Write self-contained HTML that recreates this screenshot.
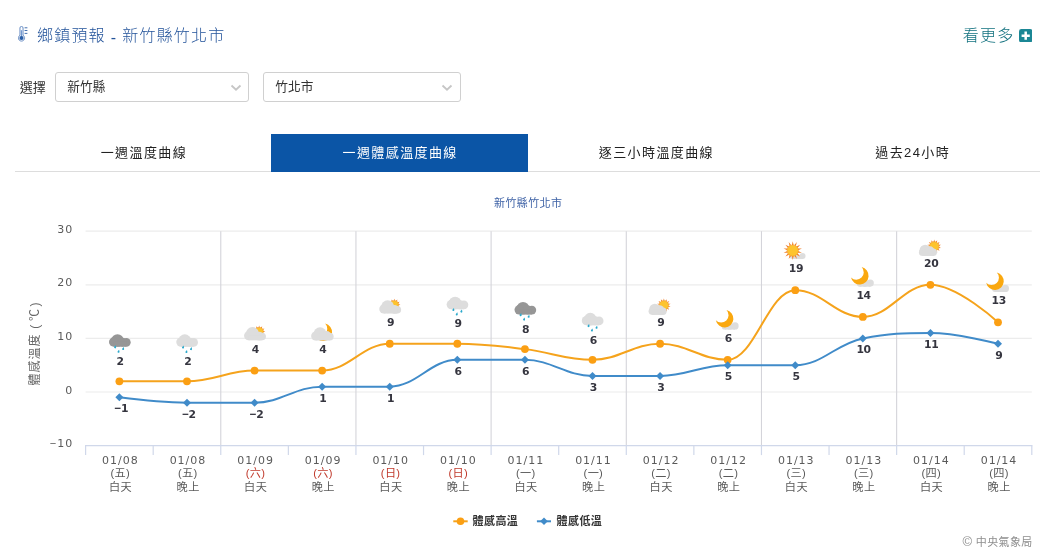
<!DOCTYPE html>
<html lang="zh-Hant"><head><meta charset="utf-8"><title>鄉鎮預報 - 新竹縣竹北市</title>
<style>
html,body{margin:0;padding:0;background:#fff}
body{width:1055px;height:560px;position:relative;overflow:hidden;font-family:"Liberation Sans","Noto Sans CJK TC",sans-serif;color:#333}
.abs{position:absolute;white-space:nowrap}
.title{left:37px;top:25.5px;font-size:16px;line-height:20px;letter-spacing:1.2px;word-spacing:-0.7px;color:#23539a;font-weight:300}
.more{left:962.8px;top:26.3px;font-size:16px;line-height:20px;letter-spacing:1.2px;color:#12717f;font-weight:300}
  .lbl{left:19.7px;top:79px;font-size:13px;line-height:18px;color:#333}
.sel{top:72px;height:28px;border:1px solid #d0d0d0;border-radius:3px;background:#fff;font-size:12.7px;line-height:28.6px;color:#333;box-sizing:content-box}
.sel span{position:absolute;left:11.3px;top:0}
.tabs{left:15px;top:134px;width:1025px;height:37px;border-bottom:1px solid #ddd}
.tab{position:absolute;top:0;height:38px;width:256.25px;text-align:center;font-size:13px;line-height:38px;letter-spacing:1.4px;color:#222;padding-left:1.6px;box-sizing:border-box}
.tab.on{background:#0b55a6;color:#fff}
</style></head><body>
<svg class="abs" style="left:17.9px;top:26px" width="11" height="16" viewBox="0 0 11 16"><path d="M1.95 2 a1.55 1.55 0 0 1 3.1 0 v7.3 a3.1 3.1 0 1 1 -3.1 0 z" fill="#fff" stroke="#5a82be" stroke-width="0.9"/><path d="M3.5 4.2 v7" stroke="#7499cf" stroke-width="1.4"/><circle cx="3.5" cy="12" r="2.1" fill="#2a5ea6"/><path d="M6.6 1.8 h2.8 M6.6 4.5 h2.8 M6.6 7.4 h2.8" stroke="#3b69ad" stroke-width="0.95"/></svg>
<div class="abs title">鄉鎮預報 <span style="position:relative;top:2px">-</span> 新竹縣竹北市</div>
<div class="abs more">看更多</div>
<svg class="abs" style="left:1018.8px;top:28.7px" width="13.4" height="13.4" viewBox="0 0 13.4 13.4"><rect x="0" y="0" width="13.4" height="13.4" rx="2.4" fill="#1b8795"/><path d="M6.7 2.6 v8.2 M2.6 6.7 h8.2" stroke="#fff" stroke-width="2.5"/></svg>
<div class="abs lbl">選擇</div>
<div class="abs sel" style="left:55px;width:192px"><span>新竹縣</span><svg style="position:absolute;right:6px;top:11px" width="12" height="8" viewBox="0 0 12 8"><path d="M1.5 1.5 L6 5.7 L10.5 1.5" fill="none" stroke="#c6c6c6" stroke-width="1.8"/></svg></div>
<div class="abs sel" style="left:263px;width:196px"><span>竹北市</span><svg style="position:absolute;right:7px;top:11px" width="12" height="8" viewBox="0 0 12 8"><path d="M1.5 1.5 L6 5.7 L10.5 1.5" fill="none" stroke="#c6c6c6" stroke-width="1.8"/></svg></div>
<div class="abs tabs">
<div class="tab" style="left:0">一週溫度曲線</div>
<div class="tab on" style="left:256.25px">一週體感溫度曲線</div>
<div class="tab" style="left:512.5px">逐三小時溫度曲線</div>
<div class="tab" style="left:768.75px">過去24小時</div>
</div>
<svg width="1055" height="560" style="position:absolute;left:0;top:0" font-family="Liberation Sans,Noto Sans CJK TC,sans-serif">
<path d="M85.60 231.20 H1031.80" stroke="#ececec" stroke-width="1.2"/>
<path d="M85.60 284.80 H1031.80" stroke="#ececec" stroke-width="1.2"/>
<path d="M85.60 338.40 H1031.80" stroke="#ececec" stroke-width="1.2"/>
<path d="M85.60 392.00 H1031.80" stroke="#ececec" stroke-width="1.2"/>
<path d="M220.77 231.20 V445.60" stroke="#d4d4da" stroke-width="1.1"/>
<path d="M355.94 231.20 V445.60" stroke="#d4d4da" stroke-width="1.1"/>
<path d="M491.11 231.20 V445.60" stroke="#d4d4da" stroke-width="1.1"/>
<path d="M626.29 231.20 V445.60" stroke="#d4d4da" stroke-width="1.1"/>
<path d="M761.46 231.20 V445.60" stroke="#d4d4da" stroke-width="1.1"/>
<path d="M896.63 231.20 V445.60" stroke="#d4d4da" stroke-width="1.1"/>
<path d="M85.00 445.60 H1032.40" stroke="#d0d8ea" stroke-width="1.3"/>
<path d="M85.60 445.60 V455.10" stroke="#d0d8ea" stroke-width="1.2"/>
<path d="M153.19 445.60 V455.10" stroke="#d0d8ea" stroke-width="1.2"/>
<path d="M220.77 445.60 V455.10" stroke="#d0d8ea" stroke-width="1.2"/>
<path d="M288.36 445.60 V455.10" stroke="#d0d8ea" stroke-width="1.2"/>
<path d="M355.94 445.60 V455.10" stroke="#d0d8ea" stroke-width="1.2"/>
<path d="M423.53 445.60 V455.10" stroke="#d0d8ea" stroke-width="1.2"/>
<path d="M491.11 445.60 V455.10" stroke="#d0d8ea" stroke-width="1.2"/>
<path d="M558.70 445.60 V455.10" stroke="#d0d8ea" stroke-width="1.2"/>
<path d="M626.29 445.60 V455.10" stroke="#d0d8ea" stroke-width="1.2"/>
<path d="M693.87 445.60 V455.10" stroke="#d0d8ea" stroke-width="1.2"/>
<path d="M761.46 445.60 V455.10" stroke="#d0d8ea" stroke-width="1.2"/>
<path d="M829.04 445.60 V455.10" stroke="#d0d8ea" stroke-width="1.2"/>
<path d="M896.63 445.60 V455.10" stroke="#d0d8ea" stroke-width="1.2"/>
<path d="M964.21 445.60 V455.10" stroke="#d0d8ea" stroke-width="1.2"/>
<path d="M1031.80 445.60 V455.10" stroke="#d0d8ea" stroke-width="1.2"/>
<text x="73.2" y="232.80" text-anchor="end" font-family="DejaVu Sans,Liberation Sans,Noto Sans CJK TC,sans-serif" font-size="11" letter-spacing="1" fill="#5a5a5a">30</text>
<text x="73.2" y="286.40" text-anchor="end" font-family="DejaVu Sans,Liberation Sans,Noto Sans CJK TC,sans-serif" font-size="11" letter-spacing="1" fill="#5a5a5a">20</text>
<text x="73.2" y="340.00" text-anchor="end" font-family="DejaVu Sans,Liberation Sans,Noto Sans CJK TC,sans-serif" font-size="11" letter-spacing="1" fill="#5a5a5a">10</text>
<text x="73.2" y="393.60" text-anchor="end" font-family="DejaVu Sans,Liberation Sans,Noto Sans CJK TC,sans-serif" font-size="11" letter-spacing="1" fill="#5a5a5a">0</text>
<text x="73.2" y="447.20" text-anchor="end" font-family="DejaVu Sans,Liberation Sans,Noto Sans CJK TC,sans-serif" font-size="11" letter-spacing="1" fill="#5a5a5a"><tspan font-family="Liberation Sans">−</tspan>10</text>
<g transform="translate(39.2 385.4) rotate(-90)" font-size="12" fill="#666"><text x="0" y="0" letter-spacing="1">體感溫度</text><text x="56.6" y="0">(</text><text x="64.4" y="0">℃</text><text x="78.8" y="0">)</text></g>
<text x="528.2" y="206.7" text-anchor="middle" font-size="11" letter-spacing="0.4" fill="#3e62a6">新竹縣竹北市</text>
<path d="M119.39 381.28 C119.39 381.28 159.94 381.28 186.98 381.28 C214.01 381.28 227.53 370.56 254.56 370.56 C281.60 370.56 295.12 370.56 322.15 370.56 C349.18 370.56 362.70 343.76 389.74 343.76 C416.77 343.76 430.29 343.76 457.32 343.76 C484.36 343.76 497.87 345.90 524.91 349.12 C551.94 352.34 565.46 359.84 592.49 359.84 C619.53 359.84 633.04 343.76 660.08 343.76 C687.11 343.76 700.63 359.84 727.66 359.84 C754.70 359.84 768.22 290.16 795.25 290.16 C822.28 290.16 835.80 316.96 862.84 316.96 C889.87 316.96 903.39 284.80 930.42 284.80 C957.46 284.80 998.01 322.32 998.01 322.32" fill="none" stroke="#f5a31c" stroke-width="2" stroke-linecap="round" stroke-linejoin="round"/>
<path d="M119.39 397.36 C119.39 397.36 159.94 402.72 186.98 402.72 C214.01 402.72 227.53 402.72 254.56 402.72 C281.60 402.72 295.12 386.64 322.15 386.64 C349.18 386.64 362.70 386.64 389.74 386.64 C416.77 386.64 430.29 359.84 457.32 359.84 C484.36 359.84 497.87 359.84 524.91 359.84 C551.94 359.84 565.46 375.92 592.49 375.92 C619.53 375.92 633.04 375.92 660.08 375.92 C687.11 375.92 700.63 365.20 727.66 365.20 C754.70 365.20 768.22 365.20 795.25 365.20 C822.28 365.20 835.80 343.76 862.84 338.40 C889.87 333.04 903.39 333.04 930.42 333.04 C957.46 333.04 998.01 343.76 998.01 343.76" fill="none" stroke="#408bc9" stroke-width="2" stroke-linecap="round" stroke-linejoin="round"/>
<circle cx="119.39" cy="381.28" r="3.9" fill="#fb9f13"/>
<circle cx="186.98" cy="381.28" r="3.9" fill="#fb9f13"/>
<circle cx="254.56" cy="370.56" r="3.9" fill="#fb9f13"/>
<circle cx="322.15" cy="370.56" r="3.9" fill="#fb9f13"/>
<circle cx="389.74" cy="343.76" r="3.9" fill="#fb9f13"/>
<circle cx="457.32" cy="343.76" r="3.9" fill="#fb9f13"/>
<circle cx="524.91" cy="349.12" r="3.9" fill="#fb9f13"/>
<circle cx="592.49" cy="359.84" r="3.9" fill="#fb9f13"/>
<circle cx="660.08" cy="343.76" r="3.9" fill="#fb9f13"/>
<circle cx="727.66" cy="359.84" r="3.9" fill="#fb9f13"/>
<circle cx="795.25" cy="290.16" r="3.9" fill="#fb9f13"/>
<circle cx="862.84" cy="316.96" r="3.9" fill="#fb9f13"/>
<circle cx="930.42" cy="284.80" r="3.9" fill="#fb9f13"/>
<circle cx="998.01" cy="322.32" r="3.9" fill="#fb9f13"/>
<path d="M119.39 393.36 l4 4 l-4 4 l-4 -4 z" fill="#408bc9"/>
<path d="M186.98 398.72 l4 4 l-4 4 l-4 -4 z" fill="#408bc9"/>
<path d="M254.56 398.72 l4 4 l-4 4 l-4 -4 z" fill="#408bc9"/>
<path d="M322.15 382.64 l4 4 l-4 4 l-4 -4 z" fill="#408bc9"/>
<path d="M389.74 382.64 l4 4 l-4 4 l-4 -4 z" fill="#408bc9"/>
<path d="M457.32 355.84 l4 4 l-4 4 l-4 -4 z" fill="#408bc9"/>
<path d="M524.91 355.84 l4 4 l-4 4 l-4 -4 z" fill="#408bc9"/>
<path d="M592.49 371.92 l4 4 l-4 4 l-4 -4 z" fill="#408bc9"/>
<path d="M660.08 371.92 l4 4 l-4 4 l-4 -4 z" fill="#408bc9"/>
<path d="M727.66 361.20 l4 4 l-4 4 l-4 -4 z" fill="#408bc9"/>
<path d="M795.25 361.20 l4 4 l-4 4 l-4 -4 z" fill="#408bc9"/>
<path d="M862.84 334.40 l4 4 l-4 4 l-4 -4 z" fill="#408bc9"/>
<path d="M930.42 329.04 l4 4 l-4 4 l-4 -4 z" fill="#408bc9"/>
<path d="M998.01 339.76 l4 4 l-4 4 l-4 -4 z" fill="#408bc9"/>
<g transform="translate(119.39 381.28)"><g transform="translate(-10.40 -47.10)" fill="#969696"><circle cx="8.50" cy="6.30" r="6.30"/><circle cx="17.30" cy="8.10" r="4.40"/><circle cx="4.70" cy="7.80" r="4.70"/><circle cx="13.40" cy="8.00" r="4.50"/><rect x="4.70" y="7.00" width="12.60" height="5.50"/></g><path d="M-3.70 -36.00 l0.45 2.0 a1.0 1.0 0 1 1 -1.85 -0.45 z" fill="#2ba9cc"/><path d="M4.30 -34.40 l0.45 2.0 a1.0 1.0 0 1 1 -1.85 -0.45 z" fill="#2ba9cc"/><path d="M-0.30 -31.60 l0.45 2.0 a1.0 1.0 0 1 1 -1.85 -0.45 z" fill="#2ba9cc"/></g>
<g transform="translate(186.98 381.28)"><g transform="translate(-10.70 -47.00)" fill="#dddddd"><circle cx="8.50" cy="6.30" r="6.30"/><circle cx="17.30" cy="8.10" r="4.40"/><circle cx="4.70" cy="7.80" r="4.70"/><circle cx="13.40" cy="8.00" r="4.50"/><rect x="4.70" y="7.00" width="12.60" height="5.50"/></g><path d="M-3.40 -35.80 l0.45 2.0 a1.0 1.0 0 1 1 -1.85 -0.45 z" fill="#2ba9cc"/><path d="M4.60 -34.20 l0.45 2.0 a1.0 1.0 0 1 1 -1.85 -0.45 z" fill="#2ba9cc"/><path d="M0.00 -31.40 l0.45 2.0 a1.0 1.0 0 1 1 -1.85 -0.45 z" fill="#2ba9cc"/></g>
<g transform="translate(254.56 370.56)"><path d="M5.35 -42.90 L4.60 -45.10 L3.85 -42.90 ZM7.20 -42.00 L7.65 -44.28 L5.90 -42.75 ZM8.35 -40.30 L9.88 -42.05 L7.60 -41.60 ZM8.50 -38.25 L10.70 -39.00 L8.50 -39.75 ZM7.60 -36.40 L9.88 -35.95 L8.35 -37.70 ZM5.90 -35.25 L7.65 -33.72 L7.20 -36.00 ZM3.85 -35.10 L4.60 -32.90 L5.35 -35.10 ZM2.00 -36.00 L1.55 -33.72 L3.30 -35.25 ZM0.85 -37.70 L-0.68 -35.95 L1.60 -36.40 ZM0.70 -39.75 L-1.50 -39.00 L0.70 -38.25 ZM1.60 -41.60 L-0.68 -42.05 L0.85 -40.30 ZM3.30 -42.75 L1.55 -44.28 L2.00 -42.00 Z" fill="#f07f2a"/><circle cx="4.60" cy="-39.00" r="4.10" fill="#fdc42e" stroke="#f39a26" stroke-width="0.6"/><g transform="translate(-10.50 -43.50)" fill="#dddddd"><circle cx="8.40" cy="6.50" r="6.50"/><circle cx="15.30" cy="9.10" r="4.30"/><circle cx="18.10" cy="9.50" r="3.80"/><circle cx="4.60" cy="8.70" r="4.60"/><rect x="4.60" y="8.00" width="13.50" height="5.30"/></g></g>
<g transform="translate(322.15 370.56)"><path transform="translate(1.10 -38.30)" d="M1.93 -8.64 A8.85 8.85 0 1 1 -8.69 1.67 A7.40 7.40 0 0 0 1.93 -8.64 Z" fill="#faa80f"/><g transform="translate(-11.10 -43.20)" fill="#dddddd"><circle cx="9.00" cy="6.50" r="6.50"/><circle cx="15.60" cy="8.40" r="4.70"/><circle cx="18.70" cy="9.20" r="3.90"/><circle cx="4.60" cy="8.60" r="4.50"/><rect x="4.60" y="8.00" width="14.10" height="5.10"/></g></g>
<g transform="translate(389.74 343.76)"><path d="M5.35 -42.90 L4.60 -45.10 L3.85 -42.90 ZM7.20 -42.00 L7.65 -44.28 L5.90 -42.75 ZM8.35 -40.30 L9.88 -42.05 L7.60 -41.60 ZM8.50 -38.25 L10.70 -39.00 L8.50 -39.75 ZM7.60 -36.40 L9.88 -35.95 L8.35 -37.70 ZM5.90 -35.25 L7.65 -33.72 L7.20 -36.00 ZM3.85 -35.10 L4.60 -32.90 L5.35 -35.10 ZM2.00 -36.00 L1.55 -33.72 L3.30 -35.25 ZM0.85 -37.70 L-0.68 -35.95 L1.60 -36.40 ZM0.70 -39.75 L-1.50 -39.00 L0.70 -38.25 ZM1.60 -41.60 L-0.68 -42.05 L0.85 -40.30 ZM3.30 -42.75 L1.55 -44.28 L2.00 -42.00 Z" fill="#f07f2a"/><circle cx="4.60" cy="-39.00" r="4.10" fill="#fdc42e" stroke="#f39a26" stroke-width="0.6"/><g transform="translate(-10.50 -43.50)" fill="#dddddd"><circle cx="8.40" cy="6.50" r="6.50"/><circle cx="15.30" cy="9.10" r="4.30"/><circle cx="18.10" cy="9.50" r="3.80"/><circle cx="4.60" cy="8.70" r="4.60"/><rect x="4.60" y="8.00" width="13.50" height="5.30"/></g></g>
<g transform="translate(457.32 343.76)"><g transform="translate(-10.70 -47.00)" fill="#dddddd"><circle cx="8.50" cy="6.30" r="6.30"/><circle cx="17.30" cy="8.10" r="4.40"/><circle cx="4.70" cy="7.80" r="4.70"/><circle cx="13.40" cy="8.00" r="4.50"/><rect x="4.70" y="7.00" width="12.60" height="5.50"/></g><path d="M-3.40 -35.80 l0.45 2.0 a1.0 1.0 0 1 1 -1.85 -0.45 z" fill="#2ba9cc"/><path d="M4.60 -34.20 l0.45 2.0 a1.0 1.0 0 1 1 -1.85 -0.45 z" fill="#2ba9cc"/><path d="M0.00 -31.40 l0.45 2.0 a1.0 1.0 0 1 1 -1.85 -0.45 z" fill="#2ba9cc"/></g>
<g transform="translate(524.91 349.12)"><g transform="translate(-10.40 -47.10)" fill="#969696"><circle cx="8.50" cy="6.30" r="6.30"/><circle cx="17.30" cy="8.10" r="4.40"/><circle cx="4.70" cy="7.80" r="4.70"/><circle cx="13.40" cy="8.00" r="4.50"/><rect x="4.70" y="7.00" width="12.60" height="5.50"/></g><path d="M-3.70 -36.00 l0.45 2.0 a1.0 1.0 0 1 1 -1.85 -0.45 z" fill="#2ba9cc"/><path d="M4.30 -34.40 l0.45 2.0 a1.0 1.0 0 1 1 -1.85 -0.45 z" fill="#2ba9cc"/><path d="M-0.30 -31.60 l0.45 2.0 a1.0 1.0 0 1 1 -1.85 -0.45 z" fill="#2ba9cc"/></g>
<g transform="translate(592.49 359.84)"><g transform="translate(-10.70 -47.00)" fill="#dddddd"><circle cx="8.50" cy="6.30" r="6.30"/><circle cx="17.30" cy="8.10" r="4.40"/><circle cx="4.70" cy="7.80" r="4.70"/><circle cx="13.40" cy="8.00" r="4.50"/><rect x="4.70" y="7.00" width="12.60" height="5.50"/></g><path d="M-3.40 -35.80 l0.45 2.0 a1.0 1.0 0 1 1 -1.85 -0.45 z" fill="#2ba9cc"/><path d="M4.60 -34.20 l0.45 2.0 a1.0 1.0 0 1 1 -1.85 -0.45 z" fill="#2ba9cc"/><path d="M0.00 -31.40 l0.45 2.0 a1.0 1.0 0 1 1 -1.85 -0.45 z" fill="#2ba9cc"/></g>
<g transform="translate(660.08 343.76)"><path d="M4.55 -42.90 L3.80 -45.30 L3.05 -42.90 ZM6.43 -42.13 L6.79 -44.62 L5.08 -42.78 ZM7.79 -40.62 L9.19 -42.70 L6.85 -41.79 ZM8.35 -38.67 L10.53 -39.94 L8.02 -40.13 ZM8.02 -36.67 L10.53 -36.86 L8.35 -38.13 ZM6.85 -35.01 L9.19 -34.10 L7.79 -36.18 ZM5.08 -34.02 L6.79 -32.18 L6.43 -34.67 ZM3.05 -33.90 L3.80 -31.50 L4.55 -33.90 ZM1.17 -34.67 L0.81 -32.18 L2.52 -34.02 ZM-0.19 -36.18 L-1.59 -34.10 L0.75 -35.01 ZM-0.75 -38.13 L-2.93 -36.86 L-0.42 -36.67 ZM-0.42 -40.13 L-2.93 -39.94 L-0.75 -38.67 ZM0.75 -41.79 L-1.59 -42.70 L-0.19 -40.62 ZM2.52 -42.78 L0.81 -44.62 L1.17 -42.13 Z" fill="#f07f2a"/><circle cx="3.80" cy="-38.40" r="4.70" fill="#fdc42e" stroke="#f39a26" stroke-width="0.6"/><g transform="translate(-11.50 -40.10)" fill="#dddddd"><circle cx="6.30" cy="5.60" r="5.60"/><circle cx="10.80" cy="6.40" r="4.90"/><circle cx="14.40" cy="7.60" r="3.70"/><circle cx="3.60" cy="7.70" r="3.60"/><rect x="3.60" y="6.00" width="10.80" height="5.30"/></g></g>
<g transform="translate(727.66 359.84)"><g transform="translate(-6.00 -37.50)" fill="#dddddd"><circle cx="13.40" cy="3.60" r="3.60"/><circle cx="3.00" cy="4.30" r="2.90"/><circle cx="8.00" cy="3.80" r="3.40"/><rect x="3.00" y="3.00" width="10.40" height="4.20"/></g><path transform="translate(-3.10 -41.20)" d="M1.93 -8.64 A8.85 8.85 0 1 1 -8.69 1.67 A7.40 7.40 0 0 0 1.93 -8.64 Z" fill="#faa80f"/></g>
<g transform="translate(795.25 290.16)"><g transform="translate(-6.00 -37.20)" fill="#dddddd"><circle cx="13.30" cy="3.10" r="3.00"/><circle cx="3.00" cy="3.70" r="2.40"/><circle cx="8.00" cy="3.60" r="2.50"/><rect x="3.00" y="2.60" width="10.30" height="3.50"/></g><path d="M-1.60 -45.00 L-2.50 -49.00 L-3.40 -45.00 ZM0.65 -44.07 L1.58 -48.07 L-0.97 -44.86 ZM2.28 -42.26 L4.85 -45.46 L1.16 -43.67 ZM2.96 -39.92 L6.66 -41.69 L2.56 -41.68 ZM2.56 -37.52 L6.66 -37.51 L2.96 -39.28 ZM1.16 -35.53 L4.85 -33.74 L2.28 -36.94 ZM-0.97 -34.34 L1.58 -31.13 L0.65 -35.13 ZM-3.40 -34.20 L-2.50 -30.20 L-1.60 -34.20 ZM-5.65 -35.13 L-6.58 -31.13 L-4.03 -34.34 ZM-7.28 -36.94 L-9.85 -33.74 L-6.16 -35.53 ZM-7.96 -39.28 L-11.66 -37.51 L-7.56 -37.52 ZM-7.56 -41.68 L-11.66 -41.69 L-7.96 -39.92 ZM-6.16 -43.67 L-9.85 -45.46 L-7.28 -42.26 ZM-4.03 -44.86 L-6.58 -48.07 L-5.65 -44.07 Z" fill="#f07f2a"/><circle cx="-2.50" cy="-39.60" r="5.60" fill="#fdc42e" stroke="#f39a26" stroke-width="0.6"/></g>
<g transform="translate(862.84 316.96)"><g transform="translate(-6.00 -37.50)" fill="#dddddd"><circle cx="13.40" cy="3.60" r="3.60"/><circle cx="3.00" cy="4.30" r="2.90"/><circle cx="8.00" cy="3.80" r="3.40"/><rect x="3.00" y="3.00" width="10.40" height="4.20"/></g><path transform="translate(-3.10 -41.20)" d="M1.93 -8.64 A8.85 8.85 0 1 1 -8.69 1.67 A7.40 7.40 0 0 0 1.93 -8.64 Z" fill="#faa80f"/></g>
<g transform="translate(930.42 284.80)"><path d="M4.55 -42.90 L3.80 -45.30 L3.05 -42.90 ZM6.43 -42.13 L6.79 -44.62 L5.08 -42.78 ZM7.79 -40.62 L9.19 -42.70 L6.85 -41.79 ZM8.35 -38.67 L10.53 -39.94 L8.02 -40.13 ZM8.02 -36.67 L10.53 -36.86 L8.35 -38.13 ZM6.85 -35.01 L9.19 -34.10 L7.79 -36.18 ZM5.08 -34.02 L6.79 -32.18 L6.43 -34.67 ZM3.05 -33.90 L3.80 -31.50 L4.55 -33.90 ZM1.17 -34.67 L0.81 -32.18 L2.52 -34.02 ZM-0.19 -36.18 L-1.59 -34.10 L0.75 -35.01 ZM-0.75 -38.13 L-2.93 -36.86 L-0.42 -36.67 ZM-0.42 -40.13 L-2.93 -39.94 L-0.75 -38.67 ZM0.75 -41.79 L-1.59 -42.70 L-0.19 -40.62 ZM2.52 -42.78 L0.81 -44.62 L1.17 -42.13 Z" fill="#f07f2a"/><circle cx="3.80" cy="-38.40" r="4.70" fill="#fdc42e" stroke="#f39a26" stroke-width="0.6"/><g transform="translate(-11.50 -40.10)" fill="#dddddd"><circle cx="6.30" cy="5.60" r="5.60"/><circle cx="10.80" cy="6.40" r="4.90"/><circle cx="14.40" cy="7.60" r="3.70"/><circle cx="3.60" cy="7.70" r="3.60"/><rect x="3.60" y="6.00" width="10.80" height="5.30"/></g></g>
<g transform="translate(998.01 322.32)"><g transform="translate(-6.00 -37.50)" fill="#dddddd"><circle cx="13.40" cy="3.60" r="3.60"/><circle cx="3.00" cy="4.30" r="2.90"/><circle cx="8.00" cy="3.80" r="3.40"/><rect x="3.00" y="3.00" width="10.40" height="4.20"/></g><path transform="translate(-3.10 -41.20)" d="M1.93 -8.64 A8.85 8.85 0 1 1 -8.69 1.67 A7.40 7.40 0 0 0 1.93 -8.64 Z" fill="#faa80f"/></g>
<text x="120.19" y="364.98" font-family="DejaVu Sans,Liberation Sans,Noto Sans CJK TC,sans-serif" font-size="10.8" font-weight="bold" letter-spacing="-0.3" text-anchor="middle" fill="#35353f" stroke="#fff" stroke-width="2" stroke-linejoin="round" paint-order="stroke">2</text>
<text x="187.78" y="364.98" font-family="DejaVu Sans,Liberation Sans,Noto Sans CJK TC,sans-serif" font-size="10.8" font-weight="bold" letter-spacing="-0.3" text-anchor="middle" fill="#35353f" stroke="#fff" stroke-width="2" stroke-linejoin="round" paint-order="stroke">2</text>
<text x="255.36" y="353.06" font-family="DejaVu Sans,Liberation Sans,Noto Sans CJK TC,sans-serif" font-size="10.8" font-weight="bold" letter-spacing="-0.3" text-anchor="middle" fill="#35353f" stroke="#fff" stroke-width="2" stroke-linejoin="round" paint-order="stroke">4</text>
<text x="322.95" y="352.56" font-family="DejaVu Sans,Liberation Sans,Noto Sans CJK TC,sans-serif" font-size="10.8" font-weight="bold" letter-spacing="-0.3" text-anchor="middle" fill="#35353f" stroke="#fff" stroke-width="2" stroke-linejoin="round" paint-order="stroke">4</text>
<text x="390.54" y="326.26" font-family="DejaVu Sans,Liberation Sans,Noto Sans CJK TC,sans-serif" font-size="10.8" font-weight="bold" letter-spacing="-0.3" text-anchor="middle" fill="#35353f" stroke="#fff" stroke-width="2" stroke-linejoin="round" paint-order="stroke">9</text>
<text x="458.12" y="327.46" font-family="DejaVu Sans,Liberation Sans,Noto Sans CJK TC,sans-serif" font-size="10.8" font-weight="bold" letter-spacing="-0.3" text-anchor="middle" fill="#35353f" stroke="#fff" stroke-width="2" stroke-linejoin="round" paint-order="stroke">9</text>
<text x="525.71" y="332.82" font-family="DejaVu Sans,Liberation Sans,Noto Sans CJK TC,sans-serif" font-size="10.8" font-weight="bold" letter-spacing="-0.3" text-anchor="middle" fill="#35353f" stroke="#fff" stroke-width="2" stroke-linejoin="round" paint-order="stroke">8</text>
<text x="593.29" y="343.54" font-family="DejaVu Sans,Liberation Sans,Noto Sans CJK TC,sans-serif" font-size="10.8" font-weight="bold" letter-spacing="-0.3" text-anchor="middle" fill="#35353f" stroke="#fff" stroke-width="2" stroke-linejoin="round" paint-order="stroke">6</text>
<text x="660.88" y="326.36" font-family="DejaVu Sans,Liberation Sans,Noto Sans CJK TC,sans-serif" font-size="10.8" font-weight="bold" letter-spacing="-0.3" text-anchor="middle" fill="#35353f" stroke="#fff" stroke-width="2" stroke-linejoin="round" paint-order="stroke">9</text>
<text x="728.46" y="341.84" font-family="DejaVu Sans,Liberation Sans,Noto Sans CJK TC,sans-serif" font-size="10.8" font-weight="bold" letter-spacing="-0.3" text-anchor="middle" fill="#35353f" stroke="#fff" stroke-width="2" stroke-linejoin="round" paint-order="stroke">6</text>
<text x="796.05" y="271.86" font-family="DejaVu Sans,Liberation Sans,Noto Sans CJK TC,sans-serif" font-size="10.8" font-weight="bold" letter-spacing="-0.3" text-anchor="middle" fill="#35353f" stroke="#fff" stroke-width="2" stroke-linejoin="round" paint-order="stroke">19</text>
<text x="863.64" y="298.96" font-family="DejaVu Sans,Liberation Sans,Noto Sans CJK TC,sans-serif" font-size="10.8" font-weight="bold" letter-spacing="-0.3" text-anchor="middle" fill="#35353f" stroke="#fff" stroke-width="2" stroke-linejoin="round" paint-order="stroke">14</text>
<text x="931.22" y="267.40" font-family="DejaVu Sans,Liberation Sans,Noto Sans CJK TC,sans-serif" font-size="10.8" font-weight="bold" letter-spacing="-0.3" text-anchor="middle" fill="#35353f" stroke="#fff" stroke-width="2" stroke-linejoin="round" paint-order="stroke">20</text>
<text x="998.81" y="304.32" font-family="DejaVu Sans,Liberation Sans,Noto Sans CJK TC,sans-serif" font-size="10.8" font-weight="bold" letter-spacing="-0.3" text-anchor="middle" fill="#35353f" stroke="#fff" stroke-width="2" stroke-linejoin="round" paint-order="stroke">13</text>
<text x="121.39" y="412.36" font-family="DejaVu Sans,Liberation Sans,Noto Sans CJK TC,sans-serif" font-size="10.8" font-weight="bold" letter-spacing="-0.3" text-anchor="middle" fill="#35353f" stroke="#fff" stroke-width="2" stroke-linejoin="round" paint-order="stroke"><tspan font-family="Liberation Sans" font-size="11.5">−</tspan>1</text>
<text x="188.98" y="417.72" font-family="DejaVu Sans,Liberation Sans,Noto Sans CJK TC,sans-serif" font-size="10.8" font-weight="bold" letter-spacing="-0.3" text-anchor="middle" fill="#35353f" stroke="#fff" stroke-width="2" stroke-linejoin="round" paint-order="stroke"><tspan font-family="Liberation Sans" font-size="11.5">−</tspan>2</text>
<text x="256.56" y="417.72" font-family="DejaVu Sans,Liberation Sans,Noto Sans CJK TC,sans-serif" font-size="10.8" font-weight="bold" letter-spacing="-0.3" text-anchor="middle" fill="#35353f" stroke="#fff" stroke-width="2" stroke-linejoin="round" paint-order="stroke"><tspan font-family="Liberation Sans" font-size="11.5">−</tspan>2</text>
<text x="322.95" y="401.64" font-family="DejaVu Sans,Liberation Sans,Noto Sans CJK TC,sans-serif" font-size="10.8" font-weight="bold" letter-spacing="-0.3" text-anchor="middle" fill="#35353f" stroke="#fff" stroke-width="2" stroke-linejoin="round" paint-order="stroke">1</text>
<text x="390.54" y="401.64" font-family="DejaVu Sans,Liberation Sans,Noto Sans CJK TC,sans-serif" font-size="10.8" font-weight="bold" letter-spacing="-0.3" text-anchor="middle" fill="#35353f" stroke="#fff" stroke-width="2" stroke-linejoin="round" paint-order="stroke">1</text>
<text x="458.12" y="374.84" font-family="DejaVu Sans,Liberation Sans,Noto Sans CJK TC,sans-serif" font-size="10.8" font-weight="bold" letter-spacing="-0.3" text-anchor="middle" fill="#35353f" stroke="#fff" stroke-width="2" stroke-linejoin="round" paint-order="stroke">6</text>
<text x="525.71" y="374.84" font-family="DejaVu Sans,Liberation Sans,Noto Sans CJK TC,sans-serif" font-size="10.8" font-weight="bold" letter-spacing="-0.3" text-anchor="middle" fill="#35353f" stroke="#fff" stroke-width="2" stroke-linejoin="round" paint-order="stroke">6</text>
<text x="593.29" y="390.92" font-family="DejaVu Sans,Liberation Sans,Noto Sans CJK TC,sans-serif" font-size="10.8" font-weight="bold" letter-spacing="-0.3" text-anchor="middle" fill="#35353f" stroke="#fff" stroke-width="2" stroke-linejoin="round" paint-order="stroke">3</text>
<text x="660.88" y="390.92" font-family="DejaVu Sans,Liberation Sans,Noto Sans CJK TC,sans-serif" font-size="10.8" font-weight="bold" letter-spacing="-0.3" text-anchor="middle" fill="#35353f" stroke="#fff" stroke-width="2" stroke-linejoin="round" paint-order="stroke">3</text>
<text x="728.46" y="380.20" font-family="DejaVu Sans,Liberation Sans,Noto Sans CJK TC,sans-serif" font-size="10.8" font-weight="bold" letter-spacing="-0.3" text-anchor="middle" fill="#35353f" stroke="#fff" stroke-width="2" stroke-linejoin="round" paint-order="stroke">5</text>
<text x="796.05" y="380.20" font-family="DejaVu Sans,Liberation Sans,Noto Sans CJK TC,sans-serif" font-size="10.8" font-weight="bold" letter-spacing="-0.3" text-anchor="middle" fill="#35353f" stroke="#fff" stroke-width="2" stroke-linejoin="round" paint-order="stroke">5</text>
<text x="863.64" y="353.40" font-family="DejaVu Sans,Liberation Sans,Noto Sans CJK TC,sans-serif" font-size="10.8" font-weight="bold" letter-spacing="-0.3" text-anchor="middle" fill="#35353f" stroke="#fff" stroke-width="2" stroke-linejoin="round" paint-order="stroke">10</text>
<text x="931.22" y="348.04" font-family="DejaVu Sans,Liberation Sans,Noto Sans CJK TC,sans-serif" font-size="10.8" font-weight="bold" letter-spacing="-0.3" text-anchor="middle" fill="#35353f" stroke="#fff" stroke-width="2" stroke-linejoin="round" paint-order="stroke">11</text>
<text x="998.81" y="358.76" font-family="DejaVu Sans,Liberation Sans,Noto Sans CJK TC,sans-serif" font-size="10.8" font-weight="bold" letter-spacing="-0.3" text-anchor="middle" fill="#35353f" stroke="#fff" stroke-width="2" stroke-linejoin="round" paint-order="stroke">9</text>
<text x="120.39" y="463.6" text-anchor="middle" font-family="DejaVu Sans,Liberation Sans,Noto Sans CJK TC,sans-serif" font-size="11" letter-spacing="1" fill="#5a5a5a">01/08</text>
<text x="120.29" y="477.2" text-anchor="middle" font-size="11.2" letter-spacing="0.3" fill="#5a5a5a">(五)</text>
<text x="120.59" y="491.2" text-anchor="middle" font-size="11.2" letter-spacing="0.5" fill="#5a5a5a">白天</text>
<text x="187.98" y="463.6" text-anchor="middle" font-family="DejaVu Sans,Liberation Sans,Noto Sans CJK TC,sans-serif" font-size="11" letter-spacing="1" fill="#5a5a5a">01/08</text>
<text x="187.88" y="477.2" text-anchor="middle" font-size="11.2" letter-spacing="0.3" fill="#5a5a5a">(五)</text>
<text x="188.18" y="491.2" text-anchor="middle" font-size="11.2" letter-spacing="0.5" fill="#5a5a5a">晚上</text>
<text x="255.56" y="463.6" text-anchor="middle" font-family="DejaVu Sans,Liberation Sans,Noto Sans CJK TC,sans-serif" font-size="11" letter-spacing="1" fill="#5a5a5a">01/09</text>
<text x="255.46" y="477.2" text-anchor="middle" font-size="11.2" letter-spacing="0.3" fill="#c0392b">(六)</text>
<text x="255.76" y="491.2" text-anchor="middle" font-size="11.2" letter-spacing="0.5" fill="#5a5a5a">白天</text>
<text x="323.15" y="463.6" text-anchor="middle" font-family="DejaVu Sans,Liberation Sans,Noto Sans CJK TC,sans-serif" font-size="11" letter-spacing="1" fill="#5a5a5a">01/09</text>
<text x="323.05" y="477.2" text-anchor="middle" font-size="11.2" letter-spacing="0.3" fill="#c0392b">(六)</text>
<text x="323.35" y="491.2" text-anchor="middle" font-size="11.2" letter-spacing="0.5" fill="#5a5a5a">晚上</text>
<text x="390.74" y="463.6" text-anchor="middle" font-family="DejaVu Sans,Liberation Sans,Noto Sans CJK TC,sans-serif" font-size="11" letter-spacing="1" fill="#5a5a5a">01/10</text>
<text x="390.64" y="477.2" text-anchor="middle" font-size="11.2" letter-spacing="0.3" fill="#c0392b">(日)</text>
<text x="390.94" y="491.2" text-anchor="middle" font-size="11.2" letter-spacing="0.5" fill="#5a5a5a">白天</text>
<text x="458.32" y="463.6" text-anchor="middle" font-family="DejaVu Sans,Liberation Sans,Noto Sans CJK TC,sans-serif" font-size="11" letter-spacing="1" fill="#5a5a5a">01/10</text>
<text x="458.22" y="477.2" text-anchor="middle" font-size="11.2" letter-spacing="0.3" fill="#c0392b">(日)</text>
<text x="458.52" y="491.2" text-anchor="middle" font-size="11.2" letter-spacing="0.5" fill="#5a5a5a">晚上</text>
<text x="525.91" y="463.6" text-anchor="middle" font-family="DejaVu Sans,Liberation Sans,Noto Sans CJK TC,sans-serif" font-size="11" letter-spacing="1" fill="#5a5a5a">01/11</text>
<text x="525.81" y="477.2" text-anchor="middle" font-size="11.2" letter-spacing="0.3" fill="#5a5a5a">(一)</text>
<text x="526.11" y="491.2" text-anchor="middle" font-size="11.2" letter-spacing="0.5" fill="#5a5a5a">白天</text>
<text x="593.49" y="463.6" text-anchor="middle" font-family="DejaVu Sans,Liberation Sans,Noto Sans CJK TC,sans-serif" font-size="11" letter-spacing="1" fill="#5a5a5a">01/11</text>
<text x="593.39" y="477.2" text-anchor="middle" font-size="11.2" letter-spacing="0.3" fill="#5a5a5a">(一)</text>
<text x="593.69" y="491.2" text-anchor="middle" font-size="11.2" letter-spacing="0.5" fill="#5a5a5a">晚上</text>
<text x="661.08" y="463.6" text-anchor="middle" font-family="DejaVu Sans,Liberation Sans,Noto Sans CJK TC,sans-serif" font-size="11" letter-spacing="1" fill="#5a5a5a">01/12</text>
<text x="660.98" y="477.2" text-anchor="middle" font-size="11.2" letter-spacing="0.3" fill="#5a5a5a">(二)</text>
<text x="661.28" y="491.2" text-anchor="middle" font-size="11.2" letter-spacing="0.5" fill="#5a5a5a">白天</text>
<text x="728.66" y="463.6" text-anchor="middle" font-family="DejaVu Sans,Liberation Sans,Noto Sans CJK TC,sans-serif" font-size="11" letter-spacing="1" fill="#5a5a5a">01/12</text>
<text x="728.56" y="477.2" text-anchor="middle" font-size="11.2" letter-spacing="0.3" fill="#5a5a5a">(二)</text>
<text x="728.86" y="491.2" text-anchor="middle" font-size="11.2" letter-spacing="0.5" fill="#5a5a5a">晚上</text>
<text x="796.25" y="463.6" text-anchor="middle" font-family="DejaVu Sans,Liberation Sans,Noto Sans CJK TC,sans-serif" font-size="11" letter-spacing="1" fill="#5a5a5a">01/13</text>
<text x="796.15" y="477.2" text-anchor="middle" font-size="11.2" letter-spacing="0.3" fill="#5a5a5a">(三)</text>
<text x="796.45" y="491.2" text-anchor="middle" font-size="11.2" letter-spacing="0.5" fill="#5a5a5a">白天</text>
<text x="863.84" y="463.6" text-anchor="middle" font-family="DejaVu Sans,Liberation Sans,Noto Sans CJK TC,sans-serif" font-size="11" letter-spacing="1" fill="#5a5a5a">01/13</text>
<text x="863.74" y="477.2" text-anchor="middle" font-size="11.2" letter-spacing="0.3" fill="#5a5a5a">(三)</text>
<text x="864.04" y="491.2" text-anchor="middle" font-size="11.2" letter-spacing="0.5" fill="#5a5a5a">晚上</text>
<text x="931.42" y="463.6" text-anchor="middle" font-family="DejaVu Sans,Liberation Sans,Noto Sans CJK TC,sans-serif" font-size="11" letter-spacing="1" fill="#5a5a5a">01/14</text>
<text x="931.32" y="477.2" text-anchor="middle" font-size="11.2" letter-spacing="0.3" fill="#5a5a5a">(四)</text>
<text x="931.62" y="491.2" text-anchor="middle" font-size="11.2" letter-spacing="0.5" fill="#5a5a5a">白天</text>
<text x="999.01" y="463.6" text-anchor="middle" font-family="DejaVu Sans,Liberation Sans,Noto Sans CJK TC,sans-serif" font-size="11" letter-spacing="1" fill="#5a5a5a">01/14</text>
<text x="998.91" y="477.2" text-anchor="middle" font-size="11.2" letter-spacing="0.3" fill="#5a5a5a">(四)</text>
<text x="999.21" y="491.2" text-anchor="middle" font-size="11.2" letter-spacing="0.5" fill="#5a5a5a">晚上</text>
<path d="M453.3 521.3 H467.7" stroke="#f5a31c" stroke-width="2"/><circle cx="460.5" cy="521.3" r="3.8" fill="#fb9f13"/>
<text x="472.6" y="525.4" font-size="11" font-weight="bold" letter-spacing="0.4" fill="#333">體感高溫</text>
<path d="M536.9 521.3 H551" stroke="#408bc9" stroke-width="2"/><path d="M544 517.5 l3.8 3.8 l-3.8 3.8 l-3.8 -3.8 z" fill="#408bc9"/>
<text x="556.6" y="525.4" font-size="11" font-weight="bold" letter-spacing="0.4" fill="#333">體感低溫</text>
<text x="1032.6" y="545.8" text-anchor="end" font-size="11" letter-spacing="0.35" fill="#8e8e8e"><tspan font-size="13" dy="0.6">©</tspan><tspan dy="-0.6"> 中央氣象局</tspan></text>
</svg>
</body></html>
